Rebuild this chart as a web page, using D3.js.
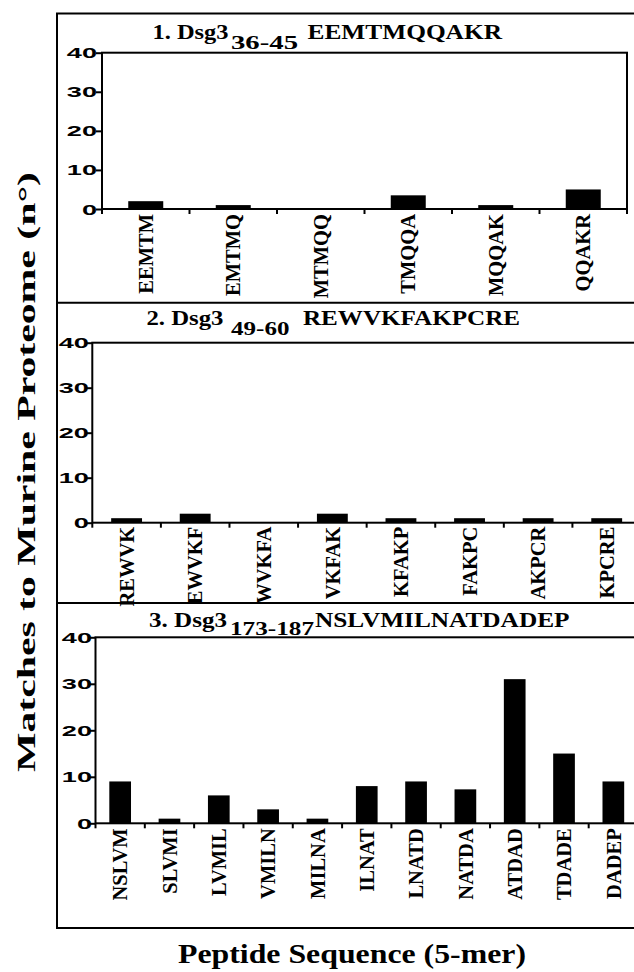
<!DOCTYPE html>
<html><head><meta charset="utf-8">
<script src="https://cdn.jsdelivr.net/npm/d3@7"></script>
<style>body{margin:0;background:#fff} svg{display:block}</style>
</head><body>
<svg id="c" width="634" height="972"></svg>
<script>
// ---- data ----
const yTicks = [0, 10, 20, 30, 40];
const p1Labels = ["EEMTM", "EMTMQ", "MTMQQ", "TMQQA", "MQQAK", "QQAKR"];
const p1Values = [2, 1, 0, 3.5, 1, 5];
const p2Labels = ["REWVK", "EWVKF", "WVKFA", "VKFAK", "KFAKP", "FAKPC", "AKPCR", "KPCRE"];
const p2Values = [1, 2, 0, 2, 1, 1, 1, 1];
const p3Labels = ["NSLVM", "SLVMI", "LVMIL", "VMILN", "MILNA", "ILNAT", "LNATD", "NATDA", "ATDAD", "TDADE", "DADEP"];
const p3Values = [9, 1, 6, 3, 1, 8, 9, 7.3, 31, 15, 9];
const titlePrefix = ["1. Dsg3", "2. Dsg3", "3. Dsg3"];
const titleSub = ["36-45", "49-60", "173-187"];
const titleSeq = ["EEMTMQQAKR", "REWVKFAKPCRE", "NSLVMILNATDADEP"];
const yTitle = "Matches to Murine Proteome (n°)";
const xTitle = "Peptide Sequence (5-mer)";

const panels = [
  {labels: p1Labels, values: p1Values},
  {labels: p2Labels, values: p2Values},
  {labels: p3Labels, values: p3Values}
];

// ---- layout ----
const layout = [
  {x0: 102, x1: 627, yTop: 52.7, yBot: 209, barFrac: 0.40, labGap: 5, tickGap: 5,
   t: {px: 152.5, pw: 76, sx: 231, sw: 67, qx: 307.5, qw: 194.5, base: 38.5, subBase: 48.5}},
  {x0: 92.3, x1: 641, yTop: 342.7, yBot: 522.7, barFrac: 0.45, labGap: 4, tickGap: 3.5,
   t: {px: 146.5, pw: 77, sx: 231, sw: 58.5, qx: 303, qw: 217, base: 325, subBase: 335}},
  {x0: 95.5, x1: 638, yTop: 637.3, yBot: 823.3, barFrac: 0.44, labGap: 5, tickGap: 3.5,
   t: {px: 149, pw: 78, sx: 230, sw: 84, qx: 315, qw: 254.5, base: 626.7, subBase: 635}}
];
const serif = "'Liberation Serif','Times New Roman',serif";
const sans = "'Liberation Sans',Arial,sans-serif";

const svg = d3.select("#c");

// outer frame
svg.append("rect").attr("x", 57).attr("y", 13.5).attr("width", 600).attr("height", 914.5)
  .attr("fill", "none").attr("stroke", "#000").attr("stroke-width", 2);
// separators
[302.7, 603].forEach(y => svg.append("line").attr("x1", 57).attr("x2", 640)
  .attr("y1", y).attr("y2", y).attr("stroke", "#000").attr("stroke-width", 2));

panels.forEach((p, k) => {
  const L = layout[k];
  const g = svg.append("g");
  const x = d3.scaleBand().domain(p.labels).range([L.x0, L.x1]).paddingInner(0).paddingOuter(0);
  const y = d3.scaleLinear().domain([0, 40]).range([L.yBot, L.yTop]);

  // bars
  const bw = x.bandwidth() * L.barFrac;
  g.selectAll("rect.bar").data(p.labels).join("rect").attr("class", "bar")
    .attr("x", d => x(d) + (x.bandwidth() - bw) / 2)
    .attr("width", bw)
    .attr("y", (d, i) => y(p.values[i]))
    .attr("height", (d, i) => y(0) - y(p.values[i]))
    .attr("fill", "#000");

  // frame
  g.append("rect").attr("x", L.x0).attr("y", L.yTop).attr("width", L.x1 - L.x0).attr("height", L.yBot - L.yTop)
    .attr("fill", "none").attr("stroke", "#000").attr("stroke-width", 2);

  // y axis
  const ya = d3.axisLeft(y).tickValues(yTicks).tickSize(6).tickPadding(4);
  const yg = g.append("g").attr("transform", `translate(${L.x0},0)`).call(ya);
  yg.select(".domain").remove();
  yg.selectAll(".tick line").attr("stroke-width", 2);
  yg.selectAll(".tick text").each(function(d) {
    const t = d3.select(this);
    t.attr("x", null).attr("dy", null).attr("text-anchor", "end")
      .attr("transform", `translate(${-L.tickGap},5) scale(1.75,1)`)
      .style("font-family", sans).style("font-weight", "bold").style("font-size", "15.5px").attr("fill", "#000");
  });

  // x ticks at boundaries
  const bounds = p.labels.map(d => x(d)).concat([L.x1]);
  g.selectAll("line.xt").data(bounds).join("line").attr("class", "xt")
    .attr("x1", d => d).attr("x2", d => d).attr("y1", L.yBot).attr("y2", L.yBot + 5)
    .attr("stroke", "#000").attr("stroke-width", 2);

  // category labels
  g.selectAll("text.cat").data(p.labels).join("text").attr("class", "cat")
    .attr("transform", d => `translate(${x(d) + x.bandwidth() / 2},${L.yBot + L.labGap}) rotate(-90)`)
    .attr("text-anchor", "end").attr("dy", "0.35em")
    .style("font-family", serif).style("font-weight", "bold").style("font-size", "20.5px").attr("fill", "#000")
    .text(d => d);

  // title
  const T = L.t;
  const tt = (txt, xx, yy, w, fs) => g.append("text").attr("x", xx).attr("y", yy)
    .attr("textLength", w).attr("lengthAdjust", "spacingAndGlyphs")
    .style("font-family", serif).style("font-weight", "bold").style("font-size", fs + "px")
    .attr("fill", "#000").text(txt);
  tt(titlePrefix[k], T.px, T.base, T.pw, 21);
  tt(titleSub[k], T.sx, T.subBase, T.sw, 18);
  tt(titleSeq[k], T.qx, T.base, T.qw, 21);
});

// axis titles
svg.append("text").attr("transform", "translate(35,472) rotate(-90)")
  .attr("text-anchor", "middle").attr("textLength", 600).attr("lengthAdjust", "spacingAndGlyphs")
  .style("font-family", serif).style("font-weight", "bold").style("font-size", "25px")
  .text(yTitle);
svg.append("text").attr("x", 178).attr("y", 963)
  .attr("textLength", 348).attr("lengthAdjust", "spacingAndGlyphs")
  .style("font-family", serif).style("font-weight", "bold").style("font-size", "28px")
  .text(xTitle);
</script>
</body></html>
